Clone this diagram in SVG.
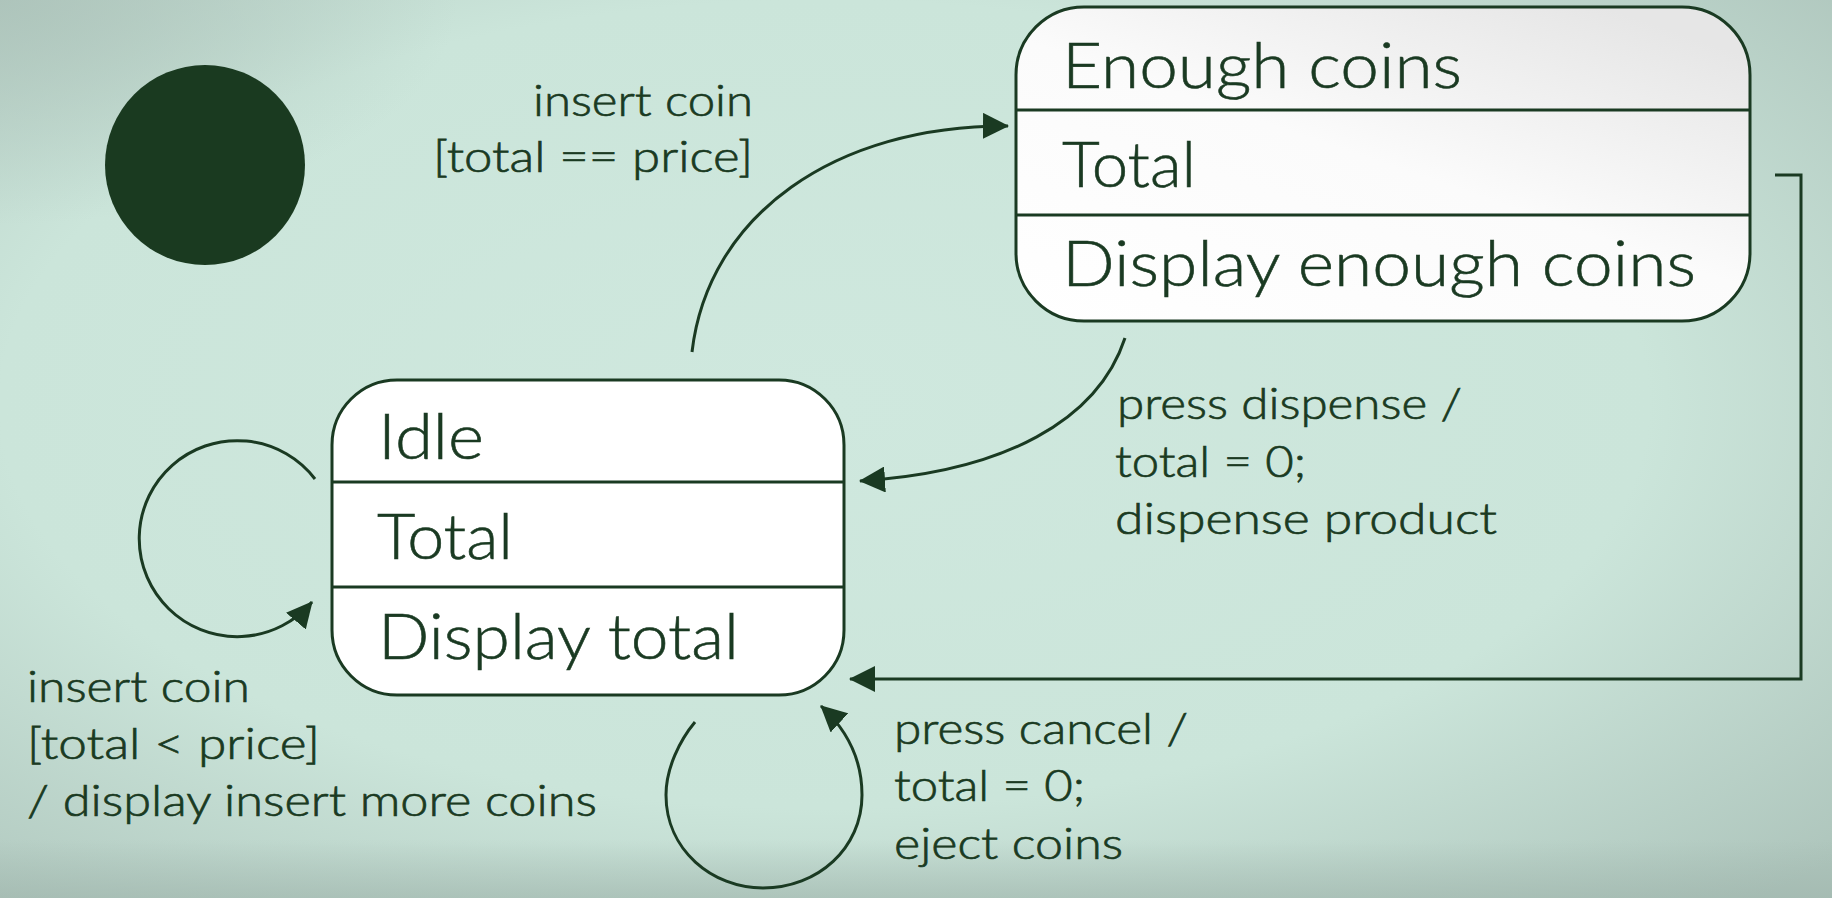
<svg xmlns="http://www.w3.org/2000/svg" width="1832" height="898" viewBox="0 0 1832 898">
<defs>
<radialGradient id="bg" cx="0.45" cy="0.45" r="0.75">
<stop offset="0" stop-color="#cfe8de"/>
<stop offset="0.6" stop-color="#cbe5da"/>
<stop offset="1" stop-color="#aec5bc"/>
</radialGradient>
<radialGradient id="tlShade" cx="0" cy="0" r="0.25">
<stop offset="0" stop-color="#a9bfb6" stop-opacity="0.7"/>
<stop offset="1" stop-color="#a9bfb6" stop-opacity="0"/>
</radialGradient>
<linearGradient id="bottomShade" x1="0" y1="0" x2="0" y2="1">
<stop offset="0" stop-color="#9fb5ac" stop-opacity="0"/>
<stop offset="1" stop-color="#9fb5ac" stop-opacity="0.6"/>
</linearGradient>
<linearGradient id="enoughFill" x1="0" y1="1" x2="0.8" y2="0">
<stop offset="0" stop-color="#ffffff"/>
<stop offset="0.55" stop-color="#fbfbfb"/>
<stop offset="1" stop-color="#e6e6e6"/>
</linearGradient>
<marker id="arrow" viewBox="0 0 26 26" refX="25" refY="13" markerWidth="26" markerHeight="26" markerUnits="userSpaceOnUse" orient="auto">
<path d="M0,0 L26,13 L0,26 Z" fill="#1a3a22"/>
</marker>
<style>
.box{stroke:#1a3a22;stroke-width:3}
.div{stroke:#1a3a22;stroke-width:3}
.st{font-family:Lato,"Liberation Sans",sans-serif;font-weight:300;font-size:64px;fill:#1a3a22;stroke:#1a3a22;stroke-width:0.6}
.lb{font-family:Lato,"Liberation Sans",sans-serif;font-weight:300;font-size:44px;fill:#1a3a22;stroke:#1a3a22;stroke-width:0.7}
.cn{fill:none;stroke:#1a3a22;stroke-width:3;marker-end:url(#arrow)}
</style>
</defs>
<rect width="1832" height="898" fill="url(#bg)"/>
<rect width="1832" height="898" fill="url(#tlShade)"/>
<rect y="840" width="1832" height="58" fill="url(#bottomShade)"/>

<g id="initial">
<circle cx="205" cy="165" r="100" fill="#1a3a20"/>
</g>

<g id="enough-coins">
<rect class="box" x="1016" y="7" width="734" height="314" rx="68" ry="68" fill="url(#enoughFill)"/>
<line class="div" x1="1016" y1="110" x2="1750" y2="110"/>
<line class="div" x1="1016" y1="215" x2="1750" y2="215"/>
<text class="st" x="1062" y="88" textLength="400" lengthAdjust="spacingAndGlyphs">Enough coins</text>
<text class="st" x="1062" y="187" textLength="134" lengthAdjust="spacingAndGlyphs">Total</text>
<text class="st" x="1062" y="286" textLength="634" lengthAdjust="spacingAndGlyphs">Display enough coins</text>
</g>

<g id="idle">
<rect class="box" x="332" y="380" width="512" height="315" rx="65" ry="65" fill="#ffffff"/>
<line class="div" x1="332" y1="482" x2="844" y2="482"/>
<line class="div" x1="332" y1="587" x2="844" y2="587"/>
<text class="st" x="378" y="459" textLength="106" lengthAdjust="spacingAndGlyphs">Idle</text>
<text class="st" x="377" y="559" textLength="136" lengthAdjust="spacingAndGlyphs">Total</text>
<text class="st" x="378" y="659" textLength="361" lengthAdjust="spacingAndGlyphs">Display total</text>
</g>

<g id="connectors">
<path class="cn" d="M692,352 C708,215 835,125 1008,126"/>
<path class="cn" d="M1125,338 C1098,420 1005,472 860,481"/>
<path class="cn" d="M1775,175 L1801,175 L1801,679 L850,679"/>
<path class="cn" d="M315,479 A98,98 0 1 0 312,602"/>
<path class="cn" d="M695,722 C680,740 666,768 666,795 C666,850 712,888 763,888 C818,888 862,848 862,795 C862,758 845,728 821,706"/>
</g>

<g id="labels">
<text class="lb" x="533" y="116" textLength="220" lengthAdjust="spacingAndGlyphs">insert coin</text>
<text class="lb" x="433" y="172" textLength="320" lengthAdjust="spacingAndGlyphs">[total == price]</text>
<text class="lb" x="1117" y="419" textLength="345" lengthAdjust="spacingAndGlyphs">press dispense /</text>
<text class="lb" x="1115" y="477" textLength="191" lengthAdjust="spacingAndGlyphs">total = 0;</text>
<text class="lb" x="1115" y="534" textLength="382" lengthAdjust="spacingAndGlyphs">dispense product</text>
<text class="lb" x="894" y="744" textLength="294" lengthAdjust="spacingAndGlyphs">press cancel /</text>
<text class="lb" x="894" y="801" textLength="191" lengthAdjust="spacingAndGlyphs">total = 0;</text>
<text class="lb" x="894" y="859" textLength="229" lengthAdjust="spacingAndGlyphs">eject coins</text>
<text class="lb" x="27" y="702" textLength="223" lengthAdjust="spacingAndGlyphs">insert coin</text>
<text class="lb" x="27" y="759" textLength="293" lengthAdjust="spacingAndGlyphs">[total &lt; price]</text>
<text class="lb" x="27" y="816" textLength="570" lengthAdjust="spacingAndGlyphs">/ display insert more coins</text>
</g>
</svg>
